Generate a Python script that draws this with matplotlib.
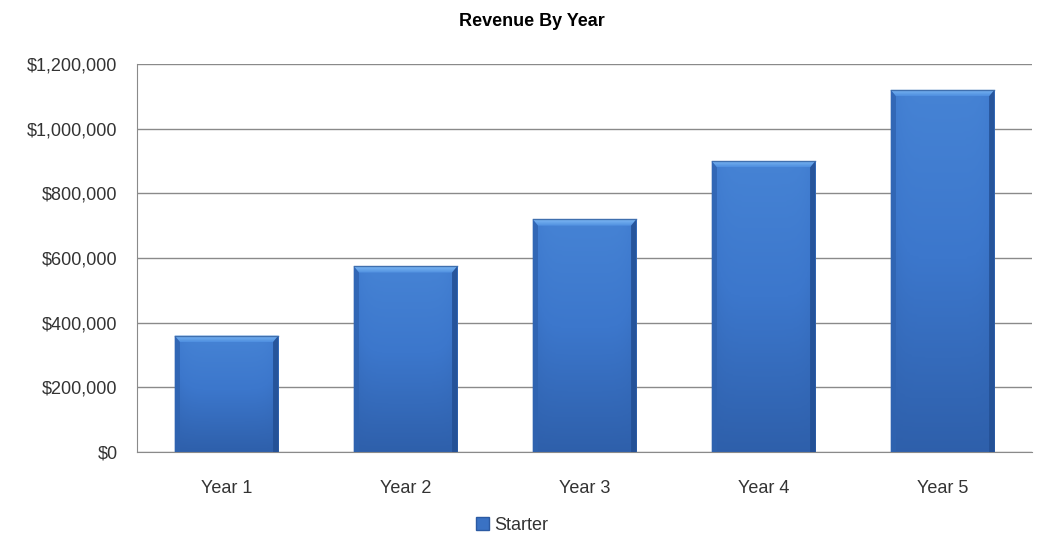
import matplotlib.pyplot as plt
import numpy as np
from matplotlib.colors import LinearSegmentedColormap
from matplotlib.patches import Polygon, Patch
from matplotlib.ticker import FuncFormatter

years = ["Year 1", "Year 2", "Year 3", "Year 4", "Year 5"]
revenue = [360000, 575000, 720000, 900000, 1120000]
series_name = "Starter"
y_ticks = [0, 200000, 400000, 600000, 800000, 1000000, 1200000]

plt.rcParams['font.family'] = ['Liberation Sans', 'DejaVu Sans']

fig = plt.figure(figsize=(10.45, 5.51), dpi=100)
ax = fig.add_axes([0.1311, 0.1797, 0.8565, 0.7041])

x = np.arange(len(years))
width = 0.58
bars = ax.bar(x, revenue, width=width, color="#3a72c4", zorder=2)

ax.set_xlim(-0.5, len(years) - 0.5)
ax.set_ylim(0, 1200000)

# vertical shading: lighter near top, darker at base; darker at the sides
body = LinearSegmentedColormap.from_list("body", ["#2b5aa3", "#3c77cc", "#4a88d8"])
vert = np.linspace(0, 1, 100)[:, None]
horiz = 1 - 0.35 * np.abs(np.linspace(-1, 1, 60))[None, :] ** 6
shade = vert * 0.75 * horiz + 0.1

bx = 0.03          # bevel width in category units
by = 20000         # bevel height in data units
top_cmap = LinearSegmentedColormap.from_list("top", ["#4f8fe0", "#7fbaf4"])
for rect in bars:
    x0, w, h = rect.get_x(), rect.get_width(), rect.get_height()
    im = ax.imshow(shade, cmap=body, vmin=0, vmax=1, origin="lower",
                   extent=[x0, x0 + w, 0, h], aspect="auto", zorder=2)
    im.set_clip_path(rect)
    # top bevel with its own small gradient
    top = Polygon([(x0, h), (x0 + w, h), (x0 + w - bx, h - by), (x0 + bx, h - by)],
                  closed=True, facecolor="none", lw=0, zorder=3)
    ax.add_patch(top)
    tim = ax.imshow(np.linspace(0, 1, 20)[:, None], cmap=top_cmap, origin="lower",
                    extent=[x0, x0 + w, h - by, h], aspect="auto", zorder=3)
    tim.set_clip_path(top)
    # side bevels
    ax.add_patch(Polygon([(x0, 0), (x0 + bx, 0), (x0 + bx, h - by), (x0, h)],
                         closed=True, color="#2f63b0", lw=0, alpha=0.8, zorder=3))
    ax.add_patch(Polygon([(x0 + w, 0), (x0 + w - bx, 0), (x0 + w - bx, h - by), (x0 + w, h)],
                         closed=True, color="#234f93", lw=0, alpha=0.85, zorder=3))
    ax.plot([x0, x0 + w], [h, h], color="#3f6fae", lw=1, zorder=4)

ax.set_aspect("auto")
ax.set_yticks(y_ticks)
ax.yaxis.set_major_formatter(FuncFormatter(lambda v, p: "${:,.0f}".format(v)))
ax.set_xticks(x)
ax.set_xticklabels(years)
ax.grid(axis="y", color="#8a8a8a", lw=1, zorder=1)
ax.set_axisbelow(True)
ax.tick_params(length=0, labelsize=13, colors="#333333")
ax.tick_params(axis="y", pad=14)
ax.tick_params(axis="x", pad=20)
for s in ["top", "right"]:
    ax.spines[s].set_visible(False)
for s in ["left", "bottom"]:
    ax.spines[s].set_color("#8a8a8a")

fig.text(532 / 1045, 1 - 22 / 551, "Revenue By Year", ha="center", va="center",
         fontsize=13, fontweight="bold")

fig.legend(handles=[Patch(facecolor="#3a72c4", edgecolor="#2b5aa3", label=series_name)],
           loc="center", bbox_to_anchor=(512 / 1045, 1 - 525 / 551), frameon=False,
           fontsize=13, handlelength=0.7, handleheight=0.7, handletextpad=0.3,
           labelcolor="#333333")

fig.savefig("out.png", dpi=100, facecolor="white")
